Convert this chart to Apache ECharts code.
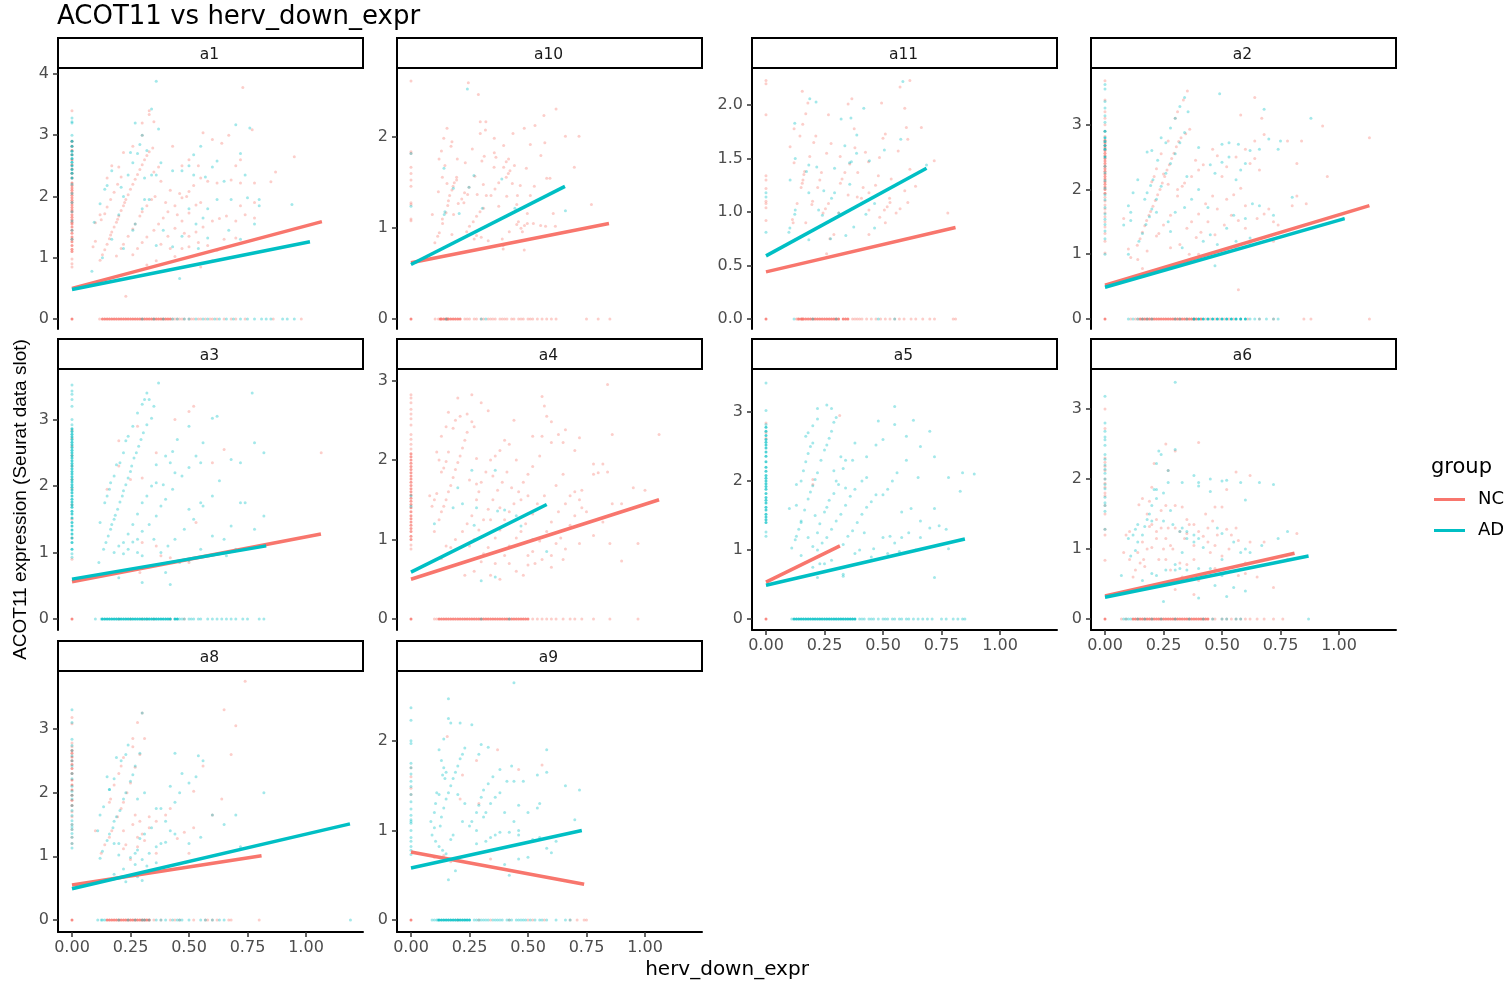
<!DOCTYPE html>
<html><head><meta charset="utf-8">
<style>html,body{margin:0;padding:0;background:#fff}#c{width:1507px;height:985px}</style>
<script src="https://cdn.jsdelivr.net/npm/echarts@6/dist/echarts.min.js"></script>
</head><body><div id="c"></div>
<script>
const xTicks=[0,0.25,0.5,0.75,1];
const ticks_a1=[0,1,2,3,4], ticks_a10=[0,1,2], ticks_a11=[0,0.5,1,1.5,2], ticks_a2=[0,1,2,3], ticks_a3=[0,1,2,3], ticks_a4=[0,1,2,3], ticks_a5=[0,1,2,3], ticks_a6=[0,1,2,3], ticks_a8=[0,1,2,3], ticks_a9=[0,1,2];

// fitted lines [x,y] end points
const a1_line_nc=[[0,.5],[1.068,1.59]], a1_line_ad=[[0,.48],[1.017,1.26]];
const a10_line_nc=[[0,.62],[.846,1.05]], a10_line_ad=[[0,.6],[.658,1.46]];
const a11_line_nc=[[0,.44],[.81,.855]], a11_line_ad=[[0,.59],[.686,1.41]];
const a2_line_nc=[[0,.52],[1.13,1.75]], a2_line_ad=[[0,.49],[1.024,1.55]];
const a3_line_nc=[[0,.56],[1.064,1.28]], a3_line_ad=[[0,.6],[.83,1.1]];
const a4_line_nc=[[0,.5],[1.06,1.5]], a4_line_ad=[[0,.59],[.58,1.44]];
const a5_line_nc=[[0,.535],[.316,1.06]], a5_line_ad=[[0,.49],[.85,1.16]];
const a6_line_nc=[[0,.33],[.81,.94]], a6_line_ad=[[0,.31],[.87,.9]];
const a8_line_nc=[[0,.55],[.81,1.01]], a8_line_ad=[[0,.49],[1.188,1.51]];
const a9_line_nc=[[0,.76],[.74,.4]], a9_line_ad=[[0,.58],[.73,1.0]];

// y values of cells with x = 0
const a1_col_nc=[.85,.9,.98,1.1,1.14,1.2,1.26,1.3,1.34,1.4,1.45,1.5,1.55,1.58,1.62,1.66,1.7,1.75,1.78,1.82,1.86,1.9,1.94,1.98,2.02,2.06,2.1,2.14,2.18,2.22,2.3,2.38,2.45,2.52,2.6,2.68,2.75,2.82,2.9,3.4];
const a1_col_ad=[1.3,1.45,1.6,1.75,1.9,2.05,2.2,2.3,2.38,2.44,2.5,2.56,2.62,2.68,2.74,2.82,2.9,3.0,3.2,3.22,3.28];
const a10_col_nc=[2.62,1.84,1.82,1.67,1.6,1.53,1.46,1.28,1.26,1.1,1.08];
const a10_col_ad=[1.82,1.24];
const a11_col_nc=[2.23,2.2,1.91,1.34,1.3,1.22,1.1,1.08,1.04,.92];
const a11_col_ad=[1.18,1.14,.81];
const a2_col_nc=[1.02,1.2,1.32,1.42,1.5,1.58,1.64,1.7,1.76,1.82,1.88,1.94,2.0,2.04,2.08,2.12,2.16,2.2,2.24,2.28,2.32,2.36,2.4,2.44,2.48,2.52,2.56,2.6,2.64,2.68,2.72,2.76,2.82,2.9,3.0,3.1,3.2,3.38,3.68];
const a2_col_ad=[1.0,1.24,1.36,1.46,1.54,1.62,1.72,1.84,1.92,2.02,2.14,2.26,2.36,2.5,2.62,2.68,2.74,2.8,2.9,3.04,3.14,3.26,3.36,3.55,3.62];
const a3_col_nc=[1.5,1.72,1.96,2.1,2.3,2.46,2.6,2.72,2.84,0.9,1.22];
const a3_col_ad=[.93,.98,1.05,1.15,1.22,1.28,1.34,1.4,1.45,1.52,1.58,1.62,1.68,1.72,1.76,1.8,1.85,1.9,1.94,1.98,2.02,2.06,2.1,2.14,2.18,2.22,2.26,2.3,2.34,2.38,2.42,2.46,2.5,2.54,2.58,2.62,2.66,2.7,2.74,2.78,2.82,2.86,2.92,3.0,3.2,3.3,3.38,3.43,3.52];
const a4_col_nc=[.88,.93,1.0,1.04,1.1,1.14,1.18,1.22,1.26,1.3,1.35,1.4,1.44,1.48,1.52,1.56,1.6,1.64,1.68,1.72,1.76,1.8,1.84,1.88,1.92,1.96,2.0,2.04,2.08,2.14,2.2,2.26,2.32,2.44,2.52,2.58,2.64,2.72,2.78,2.82];
const a4_col_ad=[1.55,1.42];
const a5_col_nc=[2.84,2.7,2.62];
const a5_col_ad=[1.2,1.26,1.4,1.44,1.48,1.52,1.58,1.62,1.68,1.72,1.76,1.82,1.88,1.92,1.96,2.0,2.04,2.08,2.14,2.2,2.28,2.36,2.42,2.48,2.52,2.56,2.6,2.66,2.72,2.78,2.82,3.02,3.42];
const a6_col_nc=[.84,1.2,1.28,1.5,1.62,1.76,1.8,1.88,1.94,2.0,2.12,2.18,2.24,2.3,2.72,3.0];
const a6_col_ad=[1.28,1.54,1.62,1.66,1.74,1.86,1.92,2.0,2.08,2.14,2.2,2.28,2.35,2.48,2.56,2.6,2.68,2.8,3.18];
const a8_col_nc=[1.2,1.3,1.42,1.5,1.62,1.7,1.8,1.88,1.96,2.04,2.12,2.2,2.3,2.38,2.44,2.5,2.56,2.62,2.66,2.72,2.78,3.08,3.18];
const a8_col_ad=[1.13,1.2,1.3,1.36,1.42,1.46,1.5,1.56,1.64,1.72,1.8,1.9,1.96,2.02,2.1,2.22,2.3,2.42,2.5,2.58,2.66,2.74,2.84,3.1,3.3];
const a9_col_nc=[1.7,1.6,1.47,1.4];
const a9_col_ad=[2.37,2.23,2.0,1.97,1.75,1.7,1.63,1.55,1.49,1.4,1.32,1.24,1.17,1.12,1.1,1.08,1.0,.92,.88,.82,.78,.73];

// x values of cells with y = 0
const a1_row_nc=[0,.118,.13,.14,.15,.16,.17,.18,.19,.2,.21,.22,.23,.24,.25,.26,.27,.28,.29,.3,.31,.32,.33,.34,.35,.36,.37,.38,.39,.4,.41,.42,.43,.44,.45,.46,.47,.48,.5,.51,.52,.54,.55,.57,.59,.6,.62,.65,.68,.7,.74,.86,.98];
const a1_row_ad=[.3,.35,.39,.43,.45,.48,.5,.53,.56,.58,.61,.63,.66,.69,.72,.75,.78,.81,.83,.85,.9,.92,.95];
const a10_row_nc=[0,.103,.117,.125,.13,.14,.15,.155,.16,.17,.18,.19,.2,.21,.23,.24,.25,.27,.28,.3,.31,.33,.34,.35,.36,.38,.39,.4,.41,.43,.44,.46,.47,.48,.5,.51,.52,.54,.56,.58,.6,.62,.75,.8,.85];
const a10_row_ad=[.15,.3,.32];
const a11_row_nc=[0,.13,.135,.14,.15,.155,.16,.17,.18,.19,.2,.21,.22,.23,.24,.25,.26,.27,.28,.29,.3,.31,.33,.34,.35,.37,.38,.39,.4,.41,.43,.45,.47,.49,.51,.53,.55,.57,.59,.62,.64,.67,.7,.72,.8,.81];
const a11_row_ad=[.12,.2,.3,.48,.55];
const a2_row_nc=[0,.11,.13,.14,.15,.16,.17,.18,.19,.2,.21,.22,.23,.24,.25,.26,.27,.28,.29,.3,.31,.32,.33,.34,.35,.36,.37,.38,.39,.41,.43,.45,.47,.49,.51,.53,.55,.58,.61,.66,.72,.85,.88,1.13];
const a2_row_ad=[.1,.12,.14,.16,.18,.2,.3,.32,.35,.38,.4,.42,.44,.46,.48,.5,.52,.54,.56,.58,.6,.62,.64,.66,.69,.72,.74];
const a3_row_nc=[0,.2,.25,.3,.32,.35,.42,.48];
const a3_row_ad=[.1,.125,.13,.14,.15,.16,.17,.18,.19,.2,.21,.22,.23,.24,.25,.26,.27,.28,.29,.3,.31,.32,.33,.34,.35,.36,.37,.38,.39,.4,.41,.42,.44,.45,.46,.47,.48,.5,.51,.52,.54,.55,.58,.6,.62,.64,.66,.68,.7,.73,.75,.8,.82];
const a4_row_nc=[0,.1,.11,.12,.13,.14,.15,.16,.17,.18,.19,.2,.21,.22,.23,.24,.25,.26,.27,.28,.29,.3,.31,.32,.33,.34,.35,.36,.37,.38,.39,.4,.41,.42,.43,.44,.45,.46,.47,.48,.49,.5,.52,.54,.56,.58,.6,.62,.65,.68,.7,.73,.78,.85,.97];
const a4_row_ad=[.3,.42];
const a5_row_nc=[0];
const a5_row_ad=[.11,.12,.13,.14,.15,.16,.17,.18,.19,.2,.21,.22,.23,.24,.25,.26,.27,.28,.29,.3,.31,.32,.33,.34,.35,.36,.37,.38,.4,.41,.42,.44,.45,.46,.48,.5,.51,.52,.54,.55,.57,.58,.6,.61,.63,.65,.67,.69,.71,.75,.77,.8,.82,.84,.85];
const a6_row_nc=[0,.07,.09,.12,.13,.14,.15,.16,.17,.18,.19,.2,.21,.22,.23,.24,.25,.26,.27,.28,.29,.3,.31,.32,.33,.34,.35,.36,.37,.38,.39,.4,.41,.42,.43,.44,.46,.47,.5,.52,.54,.56,.58,.6,.62,.65,.68,.72,.76];
const a6_row_ad=[.08,.09,.1,.11,.14,.17,.2,.24,.3,.36,.42,.46,.5,.52,.56,.58,.87];
const a8_row_nc=[0,.15,.16,.17,.18,.19,.2,.21,.22,.23,.24,.25,.26,.27,.28,.29,.3,.31,.32,.33,.35,.38,.42,.44,.46,.52,.57,.58,.6,.62,.67,.68,.8];
const a8_row_ad=[.11,.125,.13,.14,.2,.24,.27,.3,.31,.33,.36,.38,.4,.43,.45,.46,.47,.5,.55,.57,.6,.63,.65,1.19];
const a9_row_nc=[0,.2,.29,.34,.42,.5,.52,.57,.68,.71,.74,.75];
const a9_row_ad=[.09,.1,.11,.115,.12,.13,.14,.15,.16,.17,.18,.19,.2,.21,.22,.23,.24,.25,.27,.28,.29,.3,.31,.32,.33,.35,.36,.37,.38,.39,.41,.42,.43,.45,.46,.47,.48,.49,.51,.53,.55,.56,.58,.62,.66,.68];

// cloud points
const a1_pts_nc=[[.12,.96],[.13,1.05],[.14,1.13],[.15,1.22],[.16,1.31],[.165,1.37],[.17,1.42],[.18,1.5],[.19,1.58],[.195,1.63],[.2,1.68],[.21,1.77],[.22,1.85],[.225,1.9],[.23,1.95],[.24,2.03],[.25,2.12],[.26,2.2],[.27,2.28],[.28,2.36],[.29,2.44],[.3,2.52],[.31,2.6],[.32,2.67],[.33,2.73],[.345,2.79],[.125,1.62],[.14,1.72],[.15,1.83],[.165,1.95],[.18,2.07],[.195,2.2],[.21,2.32],[.19,1.03],[.21,1.15],[.22,1.22],[.24,1.35],[.26,1.47],[.27,1.55],[.29,1.68],[.3,1.75],[.32,1.85],[.34,1.95],[.355,2.0],[.26,1.05],[.28,1.15],[.3,1.25],[.32,1.34],[.35,1.45],[.37,1.55],[.39,1.65],[.41,1.75],[.44,1.85],[.47,1.98],[.5,2.08],[.38,1.22],[.41,1.35],[.44,1.48],[.47,1.6],[.5,1.73],[.53,1.86],[.09,1.18],[.1,1.27],[.12,1.7],[.15,2.3],[.17,2.5],[.2,2.48],[.22,2.72],[.26,2.82],[.3,3.0],[.33,3.34],[.33,3.4],[.35,3.22],[.3,3.2],[.1,1.57],[.23,.37],[.56,3.04],[.6,2.93],[.64,2.87],[.67,3.0],[.73,3.78],[.77,3.09],[.72,2.6],[.7,2.5],[.68,2.27],[.72,2.22],[.78,2.22],[.87,2.4],[.85,2.24],[.95,2.65],[.54,2.5],[.5,2.6],[.47,2.5],[.43,2.82],[.37,2.48],[.35,2.4],[.38,2.25],[.42,2.1],[.46,2.05],[.49,2.0],[.52,2.18],[.55,2.3],[.58,2.25],[.62,2.22],[.5,1.35],[.53,1.42],[.56,1.5],[.6,1.6],[.63,1.64],[.66,1.68],[.7,1.6],[.74,1.7],[.78,1.65],[.72,1.85],[.78,1.9],[.44,1.02],[.47,1.15],[.5,1.18],[.54,1.25],[.58,1.2],[.6,.95],[.55,.85],[.62,1.12],[.65,1.3],[.7,1.32],[.36,.95],[.32,.88],[.42,1.15],[.4,1.9],[.45,1.7],[.55,1.9],[.48,1.4]];
const a1_pts_ad=[[.085,.78],[.13,1.0],[.17,1.3],[.2,1.7],[.22,2.0],[.24,2.35],[.26,2.55],[.28,2.7],[.32,2.75],[.095,1.58],[.12,1.88],[.14,2.12],[.15,2.18],[.17,2.42],[.21,2.15],[.25,2.72],[.29,2.85],[.3,3.0],[.27,3.2],[.34,3.43],[.36,3.88],[.37,3.1],[.34,2.35],[.31,2.3],[.36,2.35],[.38,2.55],[.43,2.42],[.47,2.42],[.5,2.5],[.52,2.68],[.55,2.82],[.7,3.17],[.76,3.12],[.72,2.7],[.74,2.35],[.65,2.25],[.6,2.48],[.62,2.58],[.57,2.32],[.52,2.35],[.31,1.95],[.3,1.8],[.27,1.55],[.26,1.45],[.22,1.15],[.33,1.95],[.36,1.2],[.39,1.45],[.43,1.18],[.47,1.35],[.5,1.8],[.53,1.55],[.56,1.65],[.58,1.8],[.62,1.95],[.68,1.95],[.75,1.98],[.8,1.85],[.78,1.55],[.72,1.3],[.67,1.45],[.58,1.32],[.54,1.15],[.46,.66],[.94,1.87],[.8,1.95]];
const a10_pts_nc=[[.245,2.6],[.288,2.47],[.62,2.31],[.568,2.24],[.296,2.17],[.32,2.17],[.154,2.1],[.484,2.1],[.53,2.13],[.318,2.08],[.296,2.04],[.436,2.04],[.14,1.99],[.356,1.99],[.66,2.01],[.718,2.01],[.175,1.95],[.171,1.9],[.572,1.94],[.51,1.92],[.396,1.91],[.13,1.85],[.262,1.87],[.356,1.83],[.555,1.8],[.12,1.76],[.198,1.76],[.313,1.79],[.303,1.74],[.363,1.78],[.417,1.76],[.407,1.73],[.232,1.72],[.145,1.69],[.355,1.67],[.396,1.67],[.442,1.69],[.493,1.66],[.698,1.67],[.134,1.56],[.195,1.56],[.423,1.63],[.416,1.6],[.407,1.56],[.154,1.49],[.195,1.53],[.309,1.48],[.375,1.5],[.433,1.49],[.467,1.47],[.527,1.46],[.58,1.55],[.594,1.55],[.117,1.4],[.283,1.37],[.322,1.36],[.342,1.36],[.359,1.43],[.409,1.35],[.455,1.36],[.51,1.36],[.217,1.32],[.242,1.37],[.229,1.39],[.202,1.27],[.226,1.28],[.375,1.24],[.452,1.26],[.771,1.26],[.091,1.15],[.182,1.15],[.134,1.1],[.497,1.16],[.608,1.16],[.135,1.05],[.15,1.17],[.157,1.25],[.16,1.3],[.165,1.36],[.175,1.42],[.18,1.46],[.185,1.5],[.238,.96],[.25,1.02],[.266,1.07],[.28,1.13],[.295,1.18],[.31,1.22],[.27,.88],[.28,.92],[.3,.9],[.33,.86],[.39,.88],[.42,.96],[.47,1.0],[.452,1.04],[.485,1.03],[.497,1.05],[.523,1.05],[.554,1.03],[.575,1.02],[.617,1.02],[.476,.96],[.459,1.07],[.394,.77],[.484,.76],[.394,.81],[.102,.84],[.114,.91],[.121,.95],[.175,.93],[.248,1.45],[.273,1.57]];
const a10_pts_ad=[[.241,2.53],[.141,1.66],[.269,1.58],[.248,1.45],[.388,1.54],[.181,1.44],[.145,1.18],[.142,1.15],[.206,1.16],[.305,1.22],[.444,1.22],[.66,1.19]];
const a11_pts_nc=[[.155,2.13],[.179,2.02],[.17,1.92],[.157,1.82],[.12,1.78],[.145,1.71],[.213,1.71],[.204,1.65],[.103,1.61],[.187,1.52],[.12,1.46],[.351,2.01],[.367,2.06],[.267,1.91],[.494,2.02],[.573,2.17],[.615,2.23],[.593,1.97],[.6,1.79],[.664,1.79],[.51,1.73],[.5,1.69],[.606,1.68],[.377,1.78],[.38,1.6],[.278,1.64],[.259,1.55],[.317,1.52],[.425,1.56],[.565,1.57],[.719,1.48],[.485,1.51],[.438,1.47],[.358,1.45],[.337,1.37],[.392,1.37],[.615,1.4],[.48,1.34],[.535,1.31],[.165,1.38],[.162,1.35],[.158,1.3],[.155,1.27],[.15,1.23],[.237,1.37],[.23,1.3],[.221,1.23],[.325,1.31],[.318,1.27],[.415,1.23],[.468,1.25],[.44,1.18],[.408,1.13],[.351,1.16],[.39,1.14],[.528,1.13],[.53,1.09],[.518,1.05],[.606,1.09],[.639,1.24],[.593,1.2],[.199,1.1],[.196,1.07],[.133,1.08],[.267,1.08],[.254,1.03],[.244,.99],[.44,1.02],[.506,1.02],[.556,.99],[.573,1.03],[.777,.99],[.486,.95],[.51,.9],[.113,.93],[.116,.9],[.17,.9],[.44,.79],[.29,.79],[.273,.75],[.259,.61],[.311,.99]];
const a11_pts_ad=[[.187,2.06],[.214,2.03],[.123,1.83],[.418,1.97],[.321,1.87],[.363,1.88],[.585,2.22],[.388,1.72],[.337,1.62],[.387,1.55],[.506,1.58],[.576,1.68],[.125,1.5],[.183,1.44],[.217,1.42],[.293,1.41],[.365,1.47],[.442,1.48],[.357,1.46],[.686,1.44],[.173,1.38],[.103,1.3],[.358,1.26],[.247,1.2],[.183,1.18],[.28,1.13],[.293,1.18],[.464,1.08],[.427,.98],[.225,1.02],[.241,.97],[.125,1.02],[.123,.98],[.102,.85],[.098,.81],[.311,.99],[.375,.86],[.341,.78],[.464,.85],[.183,.74],[.276,.75]];
const a2_pts_nc=[[.138,1.14],[.15,1.24],[.16,1.34],[.17,1.44],[.178,1.52],[.188,1.6],[.195,1.66],[.205,1.74],[.215,1.83],[.225,1.92],[.235,2.0],[.245,2.1],[.255,2.2],[.265,2.3],[.275,2.38],[.285,2.48],[.295,2.56],[.305,2.66],[.315,2.74],[.325,2.8],[.345,2.86],[.362,2.93],[.2,2.12],[.21,2.2],[.22,2.32],[.24,2.55],[.27,2.75],[.3,3.1],[.31,3.2],[.335,3.38],[.352,3.52],[.23,1.32],[.25,1.45],[.28,1.6],[.31,1.9],[.33,2.05],[.387,2.45],[.35,1.4],[.37,1.5],[.4,1.62],[.43,1.78],[.39,1.26],[.41,1.34],[.44,1.5],[.48,1.7],[.52,1.85],[.55,1.92],[.47,1.3],[.51,1.45],[.57,1.52],[.6,1.4],[.65,1.55],[.68,1.62],[.7,1.7],[.72,1.5],[.74,1.45],[.8,1.75],[.82,1.9],[.86,1.78],[.62,2.4],[.64,2.48],[.66,2.3],[.6,2.62],[.64,2.75],[.68,2.85],[.56,2.5],[.64,3.42],[.67,3.1],[.58,3.15],[.46,2.62],[.52,2.35],[.48,2.52],[.4,2.3],[.37,2.2],[.31,2.0],[.27,2.08],[.25,2.24],[.34,2.1],[.42,2.38],[.5,2.2],[.78,2.75],[.84,2.75],[.82,2.4],[.93,2.98],[1.13,2.8],[.95,2.2],[.1,1.08],[.08,1.55],[.11,.95],[.14,.92],[.16,.78],[.36,1.0],[.4,1.0],[.56,1.1],[.62,1.18],[.72,1.2],[.57,.45],[.28,1.1],[.32,1.15],[.22,1.28],[.18,1.05],[.46,1.9],[.6,1.75],[.58,2.02],[.54,1.6]];
const a2_pts_ad=[[.1,1.0],[.145,1.2],[.16,1.32],[.175,1.46],[.19,1.58],[.2,1.7],[.22,1.85],[.24,2.05],[.26,2.25],[.28,2.4],[.3,2.55],[.32,2.72],[.34,2.88],[.17,1.85],[.18,1.95],[.195,2.06],[.205,2.15],[.225,2.45],[.26,2.72],[.28,2.95],[.3,3.1],[.32,3.28],[.34,3.42],[.355,3.2],[.08,1.45],[.11,1.52],[.1,1.75],[.12,1.95],[.11,1.65],[.14,2.15],[.18,2.58],[.2,2.6],[.24,2.8],[.3,1.65],[.34,1.72],[.37,1.85],[.4,2.0],[.45,2.38],[.5,2.42],[.53,2.5],[.57,2.7],[.6,2.4],[.62,2.6],[.66,2.62],[.7,2.78],[.74,2.62],[.49,3.48],[.75,2.75],[.56,2.15],[.58,2.3],[.55,1.6],[.6,1.55],[.66,1.75],[.72,1.6],[.8,1.88],[.88,3.1],[1.02,1.55],[.42,1.2],[.45,1.3],[.48,1.15],[.52,1.4],[.44,1.72],[.4,2.65],[.47,2.25],[.5,2.7],[.53,2.72],[.68,3.24],[.33,1.1],[.32,.87],[.47,.82],[.28,1.35],[.35,2.2],[.22,1.65],[.27,1.5],[.63,1.78],[.62,1.25],[.56,1.2]];
const a3_pts_nc=[[.15,1.95],[.2,2.68],[.28,2.9],[.44,3.0],[.5,3.12],[.52,3.2],[.36,2.5],[.6,2.35],[.65,2.55],[1.065,2.5],[.53,1.45],[.3,2.12],[.29,.7],[.3,1.15],[.36,1.1],[.38,.95],[.42,.92],[.5,.85],[.2,2.3],[.25,2.1]];
const a3_pts_ad=[[.115,.85],[.135,1.05],[.145,1.15],[.155,1.25],[.165,1.35],[.17,1.42],[.18,1.5],[.185,1.56],[.195,1.65],[.205,1.76],[.215,1.85],[.22,1.93],[.23,2.02],[.24,2.12],[.25,2.22],[.255,2.3],[.265,2.42],[.275,2.5],[.285,2.6],[.295,2.7],[.305,2.8],[.32,2.92],[.34,3.02],[.12,1.45],[.14,1.75],[.15,1.85],[.16,1.95],[.165,2.05],[.18,2.15],[.19,2.32],[.205,2.35],[.22,2.5],[.23,2.68],[.24,2.75],[.26,2.9],[.28,3.1],[.3,3.23],[.31,3.3],[.32,3.4],[.37,3.55],[.33,3.3],[.35,3.2],[.18,1.0],[.2,1.1],[.22,1.15],[.24,1.28],[.26,1.42],[.28,1.58],[.3,1.75],[.32,1.85],[.34,2.0],[.22,.98],[.24,1.05],[.26,1.16],[.28,1.2],[.3,1.32],[.33,1.42],[.36,1.55],[.38,1.7],[.4,1.8],[.43,1.95],[.47,2.15],[.5,2.28],[.53,2.45],[.56,2.65],[.6,3.02],[.62,3.05],[.38,1.0],[.41,1.1],[.44,1.2],[.48,1.35],[.52,1.5],[.56,1.7],[.6,1.85],[.63,2.08],[.36,2.32],[.4,2.45],[.43,2.52],[.5,2.9],[.45,2.7],[.68,2.4],[.72,2.35],[.78,2.65],[.82,2.5],[.77,3.4],[.55,2.35],[.42,2.35],[.36,2.05],[.39,2.02],[.44,2.2],[.5,1.65],[.55,1.75],[.6,1.25],[.65,1.2],[.68,1.4],[.72,1.75],[.74,1.75],[.78,1.35],[.82,1.55],[.7,1.05],[.66,.95],[.55,1.05],[.5,.88],[.46,.85],[.4,.7],[.3,.95],[.28,1.0],[.35,1.2],[.42,.52],[.3,.55],[.2,.62]];
const a4_pts_nc=[[.1,1.1],[.12,1.25],[.13,1.35],[.14,1.42],[.15,1.5],[.16,1.6],[.17,1.68],[.18,1.78],[.19,1.88],[.2,1.97],[.21,2.05],[.22,2.15],[.23,2.25],[.24,2.35],[.26,2.48],[.3,2.72],[.09,1.42],[.1,1.5],[.11,1.58],[.13,1.85],[.14,1.9],[.15,1.98],[.16,2.1],[.08,1.55],[.11,2.1],[.12,2.0],[.13,2.3],[.15,2.42],[.16,2.6],[.2,2.78],[.26,2.82],[.24,2.58],[.21,2.55],[.18,2.4],[.19,2.5],[.19,1.0],[.17,.9],[.15,.92],[.13,.76],[.22,1.1],[.24,1.2],[.26,1.3],[.28,1.5],[.29,1.6],[.3,1.72],[.32,1.85],[.34,2.0],[.25,.92],[.27,1.0],[.29,1.12],[.31,1.25],[.33,1.38],[.35,1.5],[.37,1.62],[.39,1.72],[.41,1.85],[.45,2.0],[.31,.82],[.33,.9],[.36,1.02],[.38,1.12],[.4,1.25],[.42,1.35],[.44,1.45],[.46,1.6],[.48,1.72],[.5,1.82],[.52,1.92],[.55,2.05],[.4,.8],[.42,.92],[.45,1.02],[.47,1.1],[.49,1.2],[.52,1.32],[.54,1.45],[.57,1.55],[.62,1.68],[.65,1.82],[.5,.8],[.52,.85],[.55,.98],[.58,1.1],[.6,1.22],[.63,1.35],[.66,1.45],[.68,1.55],[.56,.75],[.6,.8],[.62,.95],[.64,1.02],[.68,1.18],[.7,1.3],[.73,1.4],[.75,1.35],[.73,1.62],[.7,1.6],[.72,1.5],[.78,1.82],[.8,1.84],[.84,1.85],[.78,1.95],[.82,1.95],[.86,1.45],[.9,1.45],[.95,1.65],[1.0,1.62],[.78,1.05],[.82,1.22],[.85,.95],[.9,.73],[.97,.95],[1.06,2.32],[.86,2.32],[.84,2.95],[.56,2.8],[.57,2.68],[.58,2.55],[.6,2.48],[.66,2.38],[.72,2.28],[.52,2.3],[.56,2.3],[.6,2.22],[.63,2.32],[.65,2.22],[.7,2.12],[.44,2.5],[.4,2.25],[.42,2.2],[.36,2.05],[.38,2.12],[.33,2.62],[.28,2.02],[.27,2.42],[.23,.55],[.27,.6],[.34,.55],[.38,.5],[.45,.6],[.48,.55],[.53,.7],[.6,.65],[.65,.75],[.5,.68],[.42,.7],[.36,.7],[.3,.72],[.35,1.8],[.47,1.5],[.43,1.65],[.5,1.55],[.38,1.4],[.34,1.25],[.28,1.7],[.25,1.75],[.66,.88],[.72,.95]];
const a4_pts_ad=[[.1,1.2],[.3,.48],[.36,.53],[.18,1.4],[.22,1.45],[.26,1.87],[.36,1.87],[.2,1.65],[.27,1.18],[.4,1.37],[.45,1.3],[.47,1.17],[.58,.85],[.52,1.0],[.28,1.4],[.37,1.36]];
const a5_pts_nc=[[.315,2.95],[.2,2.02],[.2,1.95]];
const a5_pts_ad=[[.11,1.03],[.125,1.15],[.14,1.3],[.15,1.42],[.165,1.58],[.18,1.74],[.19,1.84],[.2,1.93],[.21,2.02],[.22,2.12],[.235,2.3],[.25,2.45],[.26,2.52],[.27,2.62],[.28,2.72],[.29,2.85],[.3,2.92],[.13,1.95],[.15,2.0],[.16,2.15],[.17,2.28],[.18,2.4],[.19,2.5],[.2,2.55],[.22,2.9],[.22,3.05],[.26,3.1],[.28,3.05],[.2,2.8],[.18,2.7],[.17,2.65],[.22,1.25],[.23,1.38],[.25,1.55],[.26,1.62],[.27,1.72],[.29,1.82],[.31,1.95],[.33,2.18],[.34,2.3],[.22,1.0],[.24,1.1],[.26,1.18],[.28,1.3],[.3,1.42],[.32,1.52],[.34,1.65],[.36,1.78],[.38,1.88],[.41,2.0],[.43,2.05],[.33,1.08],[.35,1.2],[.37,1.28],[.39,1.4],[.41,1.52],[.43,1.62],[.45,1.7],[.47,1.8],[.55,3.08],[.48,2.87],[.63,2.88],[.55,2.82],[.43,2.35],[.47,2.52],[.37,2.3],[.38,2.55],[.5,2.6],[.6,2.65],[.65,2.05],[.66,2.5],[.7,2.72],[.72,2.35],[.78,2.05],[.83,1.85],[.84,2.12],[.89,2.1],[.1,1.6],[.13,1.65],[.15,1.4],[.6,2.3],[.56,2.12],[.54,2.0],[.52,1.88],[.5,1.8],[.58,1.55],[.62,1.6],[.66,1.42],[.72,1.6],[.74,1.35],[.77,1.3],[.5,1.18],[.53,1.2],[.55,1.1],[.58,1.18],[.61,1.25],[.64,1.0],[.7,1.32],[.78,1.02],[.66,1.18],[.42,1.25],[.4,1.0],[.46,1.02],[.45,.9],[.52,.95],[.57,.98],[.38,.95],[.28,.85],[.25,.8],[.15,.92],[.17,.82],[.2,.75],[.22,.6],[.33,.65],[.33,.62],[.72,.6],[.23,.8],[.21,1.5],[.18,1.18],[.2,1.05],[.29,2.15],[.3,2.0],[.34,1.9],[.32,2.35],[.13,1.2]];
const a6_pts_nc=[[.105,1.25],[.105,.85],[.19,1.68],[.21,2.22],[.3,2.4],[.27,2.12],[.26,2.5],[.4,2.52],[.56,2.1],[.62,2.05],[.52,1.85],[.2,1.88],[.19,1.32],[.08,.95],[.09,1.2],[.145,1.63],[.16,1.72],[.18,1.5],[.2,1.35],[.22,1.42],[.24,1.3],[.26,1.15],[.28,1.05],[.29,1.0],[.3,1.3],[.32,1.25],[.34,1.15],[.36,1.35],[.38,1.05],[.4,1.25],[.42,1.18],[.44,1.3],[.47,1.6],[.46,1.4],[.5,1.6],[.43,1.5],[.35,1.42],[.33,1.6],[.3,1.62],[.26,1.62],[.24,1.55],[.22,1.25],[.2,1.02],[.18,1.0],[.165,.85],[.15,.8],[.13,.7],[.26,.85],[.28,.7],[.32,.8],[.35,.78],[.38,.85],[.4,.55],[.42,.62],[.47,.72],[.5,.9],[.54,.68],[.57,.62],[.6,.8],[.6,.65],[.65,.6],[.72,.45],[.78,.85],[.82,1.22],[.68,1.1],[.62,1.1],[.57,1.12],[.53,1.0],[.45,.95],[.47,1.05],[.38,1.35],[.35,1.22],[.33,.6],[.28,.5],[.23,.85],[.17,.75],[.38,.35],[.3,.42],[.52,1.28],[.54,1.2],[.56,1.3],[.48,1.2],[.44,1.1],[.12,.6],[.14,.95],[.16,1.1],[.22,1.15],[.25,1.0],[.27,1.3]];
const a6_pts_ad=[[.1,1.15],[.12,1.2],[.13,1.28],[.14,1.35],[.11,.9],[.13,.98],[.14,1.1],[.16,1.2],[.17,1.32],[.18,1.42],[.19,1.5],[.2,1.62],[.22,1.72],[.21,1.85],[.2,1.4],[.27,2.12],[.24,2.35],[.22,2.22],[.23,2.4],[.3,3.38],[.3,2.42],[.38,2.05],[.4,1.95],[.5,1.97],[.52,1.98],[.58,1.95],[.66,1.95],[.72,1.92],[.6,1.7],[.45,1.82],[.4,1.9],[.45,2.0],[.27,1.95],[.33,1.95],[.25,1.8],[.22,1.85],[.25,1.4],[.28,1.55],[.29,1.35],[.33,1.3],[.35,1.25],[.32,1.25],[.38,1.1],[.4,1.15],[.42,1.02],[.35,1.15],[.38,1.2],[.48,1.3],[.5,1.22],[.6,1.0],[.62,.95],[.67,1.05],[.74,1.15],[.78,1.25],[.55,1.1],[.58,.95],[.5,.85],[.45,.72],[.5,.62],[.4,.72],[.35,.7],[.33,.95],[.32,.72],[.3,.7],[.3,.78],[.26,.7],[.22,.62],[.2,.65],[.16,.55],[.1,.4],[.07,.62],[.25,.25],[.4,.3],[.47,.48],[.55,.45],[.6,.4],[.52,.32]];
const a8_pts_nc=[[.125,1.05],[.14,1.18],[.16,1.3],[.17,1.4],[.195,1.62],[.21,1.75],[.22,1.85],[.235,2.0],[.25,2.15],[.27,2.4],[.29,2.6],[.18,2.12],[.2,2.3],[.21,2.42],[.22,2.55],[.26,2.72],[.31,2.85],[.28,3.1],[.3,3.25],[.26,2.85],[.165,1.9],[.1,1.4],[.16,1.85],[.23,1.18],[.22,1.12],[.25,.95],[.28,1.3],[.3,1.35],[.33,1.45],[.36,1.55],[.4,1.65],[.42,1.75],[.28,1.15],[.31,1.25],[.36,1.05],[.45,1.28],[.5,1.05],[.52,1.45],[.6,1.65],[.68,2.6],[.7,3.05],[.74,3.75],[.65,3.3],[.56,2.42],[.52,2.02],[.64,1.9],[.48,1.38],[.27,1.65],[.29,1.55],[.26,1.5],[.33,1.62],[.22,1.4]];
const a8_pts_ad=[[.12,.97],[.13,1.08],[.15,1.25],[.16,1.35],[.175,1.45],[.18,1.55],[.19,1.62],[.205,1.72],[.22,1.9],[.23,2.0],[.25,2.18],[.26,2.28],[.27,2.42],[.29,2.62],[.11,1.4],[.135,1.78],[.16,2.05],[.18,2.22],[.21,2.5],[.23,2.6],[.24,2.75],[.3,3.25],[.12,1.65],[.15,2.25],[.16,2.05],[.19,2.55],[.2,1.02],[.18,1.2],[.2,1.2],[.28,1.1],[.27,1.05],[.25,.98],[.29,1.28],[.31,1.35],[.34,1.45],[.31,2.0],[.28,1.9],[.36,1.75],[.27,.87],[.3,.95],[.33,1.05],[.36,1.15],[.38,1.2],[.4,1.22],[.42,1.4],[.44,1.35],[.4,1.55],[.38,1.75],[.44,1.85],[.46,2.0],[.5,2.15],[.54,2.58],[.56,2.5],[.53,2.25],[.47,2.3],[.44,2.62],[.42,2.1],[.6,1.65],[.65,1.5],[.7,1.65],[.82,2.0],[.72,1.15],[.5,1.2],[.55,1.3],[.32,.85],[.22,.8],[.18,.72],[.23,.6],[.3,.62],[.36,.9],[.28,.68]];
const a9_pts_nc=[[.155,2.05],[.37,1.9],[.28,1.78],[.56,1.73],[.46,1.68],[.22,1.62],[.21,1.35],[.34,.68],[.17,.65],[.29,1.3],[.14,.72],[.1,.7]];
const a9_pts_ad=[[.44,2.65],[.16,2.47],[.16,2.25],[.21,2.2],[.26,2.18],[.17,2.2],[.3,1.96],[.14,2.02],[.33,1.93],[.29,1.85],[.12,1.9],[.13,1.78],[.23,1.92],[.22,1.85],[.21,1.8],[.2,1.72],[.19,1.65],[.18,1.58],[.17,1.5],[.16,1.42],[.15,1.35],[.14,1.25],[.13,1.15],[.125,1.05],[.145,1.58],[.15,1.65],[.14,1.7],[.135,1.62],[.12,1.4],[.105,1.3],[.1,1.2],[.085,1.1],[.11,1.42],[.1,1.03],[.09,.95],[.105,.88],[.12,.82],[.135,.78],[.15,.74],[.26,1.1],[.28,1.2],[.29,1.28],[.3,1.37],[.31,1.45],[.33,1.52],[.35,1.6],[.38,1.68],[.41,1.55],[.44,1.55],[.48,1.55],[.54,1.62],[.58,1.65],[.66,1.5],[.72,1.45],[.58,1.9],[.43,1.72],[.38,1.42],[.36,1.37],[.34,1.3],[.31,1.15],[.28,1.0],[.25,1.05],[.23,1.3],[.2,1.4],[.22,1.1],[.18,.95],[.17,.9],[.32,1.2],[.4,1.2],[.44,1.1],[.46,1.0],[.42,.98],[.5,1.2],[.54,1.25],[.46,1.28],[.55,1.3],[.38,.98],[.36,.95],[.34,.92],[.32,.88],[.28,.85],[.46,.95],[.52,.9],[.58,.8],[.62,.88],[.42,.5],[.4,.62],[.46,.68],[.5,.7],[.16,.45],[.19,.55],[.7,1.12],[.55,.92],[.6,.75]];

const panels=[
 {name:'a1',col:0,row:0,ymin:-.164,ymax:4.098,ticks:ticks_a1,dNC:[.13,.42],cNC:[1.1,2.9],cAD:[2.3,2.9],ptsNC:a1_pts_nc,ptsAD:a1_pts_ad,colNC:a1_col_nc,colAD:a1_col_ad,rowNC:a1_row_nc,rowAD:a1_row_ad,lineNC:a1_line_nc,lineAD:a1_line_ad},
 {name:'a10',col:1,row:0,ymin:-.11,ymax:2.762,ticks:ticks_a10,dNC:[.12,.21],ptsNC:a10_pts_nc,ptsAD:a10_pts_ad,colNC:a10_col_nc,colAD:a10_col_ad,rowNC:a10_row_nc,rowAD:a10_row_ad,lineNC:a10_line_nc,lineAD:a10_line_ad},
 {name:'a11',col:2,row:0,ymin:-.094,ymax:2.347,ticks:ticks_a11,dec:1,dNC:[.14,.35],ptsNC:a11_pts_nc,ptsAD:a11_pts_ad,colNC:a11_col_nc,colAD:a11_col_ad,rowNC:a11_row_nc,rowAD:a11_row_ad,lineNC:a11_line_nc,lineAD:a11_line_ad},
 {name:'a2',col:3,row:0,ymin:-.155,ymax:3.876,ticks:ticks_a2,dNC:[.15,.42],dAD:[.38,.6],cNC:[1.9,2.8],cAD:[2.5,2.9],ptsNC:a2_pts_nc,ptsAD:a2_pts_ad,colNC:a2_col_nc,colAD:a2_col_ad,rowNC:a2_row_nc,rowAD:a2_row_ad,lineNC:a2_line_nc,lineAD:a2_line_ad},
 {name:'a3',col:0,row:1,ymin:-.165,ymax:3.76,ticks:ticks_a3,yName:'ACOT11 expression (Seurat data slot)',dAD:[.13,.45],cAD:[1.0,2.9],ptsNC:a3_pts_nc,ptsAD:a3_pts_ad,colNC:a3_col_nc,colAD:a3_col_ad,rowNC:a3_row_nc,rowAD:a3_row_ad,lineNC:a3_line_nc,lineAD:a3_line_ad},
 {name:'a4',col:1,row:1,ymin:-.138,ymax:3.145,ticks:ticks_a4,dNC:[.12,.5],cNC:[1.0,2.1],ptsNC:a4_pts_nc,ptsAD:a4_pts_ad,colNC:a4_col_nc,colAD:a4_col_ad,rowNC:a4_row_nc,rowAD:a4_row_ad,lineNC:a4_line_nc,lineAD:a4_line_ad},
 {name:'a5',col:2,row:1,ymin:-.159,ymax:3.623,ticks:ticks_a5,xShow:true,dAD:[.12,.38],cAD:[1.4,2.8],ptsNC:a5_pts_nc,ptsAD:a5_pts_ad,colNC:a5_col_nc,colAD:a5_col_ad,rowNC:a5_row_nc,rowAD:a5_row_ad,lineNC:a5_line_nc,lineAD:a5_line_ad},
 {name:'a6',col:3,row:1,ymin:-.157,ymax:3.57,ticks:ticks_a6,xShow:true,dNC:[.12,.44],ptsNC:a6_pts_nc,ptsAD:a6_pts_ad,colNC:a6_col_nc,colAD:a6_col_ad,rowNC:a6_row_nc,rowAD:a6_row_ad,lineNC:a6_line_nc,lineAD:a6_line_ad},
 {name:'a8',col:0,row:2,ymin:-.188,ymax:3.91,ticks:ticks_a8,xShow:true,dNC:[.15,.33],cNC:[1.8,2.7],ptsNC:a8_pts_nc,ptsAD:a8_pts_ad,colNC:a8_col_nc,colAD:a8_col_ad,rowNC:a8_row_nc,rowAD:a8_row_ad,lineNC:a8_line_nc,lineAD:a8_line_ad},
 {name:'a9',col:1,row:2,ymin:-.134,ymax:2.78,ticks:ticks_a9,xShow:true,dAD:[.12,.25],ptsNC:a9_pts_nc,ptsAD:a9_pts_ad,colNC:a9_col_nc,colAD:a9_col_ad,rowNC:a9_row_nc,rowAD:a9_row_ad,lineNC:a9_line_nc,lineAD:a9_line_ad}
];

const colX=[58,397,752,1091], rowY=[68,369,671], panelW=305, panelH=261, stripH=30;
const NC='#F8766D', AD='#00BFC4', FONT='"DejaVu Sans"', LAB='#4d4d4d';
const grid=[],xAxis=[],yAxis=[],series=[],elements=[];
const inRange=(v,r)=>r&&v>=r[0]&&v<=r[1];
panels.forEach((p,i)=>{
  grid.push({left:colX[p.col],top:rowY[p.row],width:panelW,height:panelH,containLabel:false,outerBoundsMode:'none'});
  xAxis.push({gridIndex:i,type:'value',min:-.0598,max:1.2436,show:!!p.xShow,splitLine:{show:false},
    axisLine:{onZero:false,lineStyle:{color:'#000',width:2}},
    axisTick:{length:5,customValues:xTicks,lineStyle:{color:'#333',width:1.5}},
    axisLabel:{customValues:xTicks,color:LAB,fontFamily:FONT,fontSize:16,margin:8,formatter:v=>v.toFixed(2)}});
  yAxis.push({gridIndex:i,type:'value',min:p.ymin,max:p.ymax,splitLine:{show:false},
    name:p.yName||'',nameLocation:'middle',nameGap:28,
    nameTextStyle:{color:'#000',fontFamily:'"Liberation Sans"',fontSize:19},
    axisLine:{onZero:false,lineStyle:{color:'#000',width:2}},
    axisTick:{length:5,customValues:p.ticks,lineStyle:{color:'#333',width:1.5}},
    axisLabel:{customValues:p.ticks,color:LAB,fontFamily:FONT,fontSize:16,margin:9,formatter:v=>p.dec?v.toFixed(p.dec):String(v)}});
  const build=(a,c,r,dr,cr)=>a.map(v=>({value:v}))
    .concat(c.map(y=>({value:[0,y],itemStyle:inRange(y,cr)?{opacity:.7}:undefined})))
    .concat(r.map(x=>({value:[x,0],itemStyle:(x===0||inRange(x,dr))?{opacity:.85}:undefined})));
  const sc=(name,color,d)=>({name,type:'scatter',xAxisIndex:i,yAxisIndex:i,data:d,symbolSize:3,silent:true,z:2,itemStyle:{color,opacity:.36}});
  const ln=(name,color,d)=>({name,type:'line',xAxisIndex:i,yAxisIndex:i,data:d,symbol:'none',silent:true,z:5,lineStyle:{color,width:3.5},itemStyle:{color}});
  series.push(ln('NC',NC,p.lineNC),ln('AD',AD,p.lineAD),
    sc('NC',NC,build(p.ptsNC,p.colNC,p.rowNC,p.dNC,p.cNC)),sc('AD',AD,build(p.ptsAD,p.colAD,p.rowAD,p.dAD,p.cAD)));
  elements.push({type:'rect',shape:{x:colX[p.col],y:rowY[p.row]-stripH,width:panelW,height:stripH},style:{fill:'#fff',stroke:'#000',lineWidth:2},z:10});
  elements.push({type:'text',style:{text:p.name,x:colX[p.col]+panelW/2-1,y:rowY[p.row]-stripH/2+1.5,textAlign:'center',textVerticalAlign:'middle',fill:'#1a1a1a',font:'15.5px '+FONT},z:11});
});
elements.push({type:'text',style:{text:'ACOT11 vs herv_down_expr',x:57,y:17,textVerticalAlign:'middle',fill:'#000',font:'26px '+FONT}});
elements.push({type:'text',style:{text:'herv_down_expr',x:727,y:970,textAlign:'center',textVerticalAlign:'middle',fill:'#000',font:'20px '+FONT}});
elements.push({type:'text',style:{text:'group',x:1431,y:468,textVerticalAlign:'middle',fill:'#000',font:'21px '+FONT}});

const chart=echarts.init(document.getElementById('c'),null,{renderer:'canvas'});
chart.setOption({animation:false,backgroundColor:'#fff',grid,xAxis,yAxis,series,
  legend:{data:['NC','AD'],left:1434,top:489,orient:'vertical',icon:'rect',itemWidth:31,itemHeight:3,itemGap:10,selectedMode:false,
    padding:0,textStyle:{color:'#000',fontFamily:FONT,fontSize:18,padding:[0,0,0,8],height:21,lineHeight:21}},
  graphic:{elements}});
</script></body></html>
